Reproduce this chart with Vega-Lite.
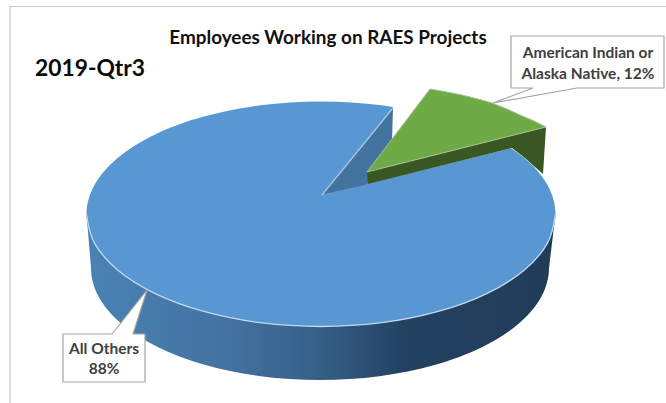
{"$schema":"https://vega.github.io/schema/vega-lite/v6.json","width":666,"height":403,"padding":0,"autosize":"none","background":"white","config":{"view":{"stroke":null}},
"data":{"values":[
{"part":"frame","i":0,"x":10,"y":403},{"part":"frame","i":1,"x":10,"y":6.5},{"part":"frame","i":2,"x":666,"y":6.5},
{"part":"base","i":0,"x":549,"y":268},{"part":"base","i":1,"x":541.2,"y":297},{"part":"base","i":2,"x":518.3,"y":324},{"part":"base","i":3,"x":481.9,"y":347.2},{"part":"base","i":4,"x":434.5,"y":365},{"part":"base","i":5,"x":379.3,"y":376.2},{"part":"base","i":6,"x":320,"y":380},{"part":"base","i":7,"x":260.7,"y":376.2},{"part":"base","i":8,"x":205.5,"y":365},{"part":"base","i":9,"x":158.1,"y":347.2},{"part":"base","i":10,"x":121.7,"y":324},{"part":"base","i":11,"x":98.8,"y":297},{"part":"base","i":12,"x":91,"y":268},{"part":"base","i":13,"x":98.8,"y":239},{"part":"base","i":14,"x":121.7,"y":212},{"part":"base","i":15,"x":158.1,"y":189},{"part":"base","i":16,"x":205.5,"y":171},{"part":"base","i":17,"x":260.7,"y":160},{"part":"base","i":18,"x":320,"y":156},{"part":"base","i":19,"x":379.3,"y":160},{"part":"base","i":20,"x":434.5,"y":171},{"part":"base","i":21,"x":481.9,"y":189},{"part":"base","i":22,"x":518.3,"y":212},{"part":"base","i":23,"x":541.2,"y":239},
{"part":"wall","i":0,"x":86.5,"y":214},{"part":"wall","i":1,"x":555.5,"y":214},{"part":"wall","i":2,"x":549,"y":268},{"part":"wall","i":3,"x":91,"y":268},
{"part":"top","i":0,"x":555.5,"y":214},{"part":"top","i":1,"x":547.5,"y":243.1},{"part":"top","i":2,"x":524.1,"y":270.25},{"part":"top","i":3,"x":486.8,"y":293.55},{"part":"top","i":4,"x":438.25,"y":311.4},{"part":"top","i":5,"x":381.7,"y":322.7},{"part":"top","i":6,"x":321,"y":326.5},{"part":"top","i":7,"x":260.3,"y":322.7},{"part":"top","i":8,"x":203.75,"y":311.4},{"part":"top","i":9,"x":155.2,"y":293.55},{"part":"top","i":10,"x":117.9,"y":270.25},{"part":"top","i":11,"x":94.5,"y":243.1},{"part":"top","i":12,"x":86.5,"y":214},{"part":"top","i":13,"x":94.5,"y":184.9},{"part":"top","i":14,"x":117.9,"y":157.75},{"part":"top","i":15,"x":155.2,"y":134.45},{"part":"top","i":16,"x":203.75,"y":116.6},{"part":"top","i":17,"x":260.3,"y":105.3},{"part":"top","i":18,"x":321,"y":101.5},{"part":"top","i":19,"x":381.7,"y":105.3},{"part":"top","i":20,"x":438.25,"y":116.6},{"part":"top","i":21,"x":486.8,"y":134.45},{"part":"top","i":22,"x":524.1,"y":157.75},{"part":"top","i":23,"x":547.5,"y":184.9},
{"part":"rim","i":0,"x":555.5,"y":214},{"part":"rim","i":1,"x":547.5,"y":243.1},{"part":"rim","i":2,"x":524.1,"y":270.25},{"part":"rim","i":3,"x":486.8,"y":293.55},{"part":"rim","i":4,"x":438.25,"y":311.4},{"part":"rim","i":5,"x":381.7,"y":322.7},{"part":"rim","i":6,"x":321,"y":326.5},{"part":"rim","i":7,"x":260.3,"y":322.7},{"part":"rim","i":8,"x":203.75,"y":311.4},{"part":"rim","i":9,"x":155.2,"y":293.55},{"part":"rim","i":10,"x":117.9,"y":270.25},{"part":"rim","i":11,"x":94.5,"y":243.1},{"part":"rim","i":12,"x":86.5,"y":214},
{"part":"cut","i":0,"x":322,"y":195},{"part":"cut","i":1,"x":399,"y":100},{"part":"cut","i":2,"x":500,"y":100},{"part":"cut","i":3,"x":530,"y":130},{"part":"cut","i":4,"x":512,"y":148},
{"part":"inner","i":0,"x":322,"y":195},{"part":"inner","i":1,"x":393,"y":108},{"part":"inner","i":2,"x":391,"y":172},{"part":"inner","i":3,"x":365,"y":185},
{"part":"innerEdge","i":0,"x":322,"y":195},{"part":"innerEdge","i":1,"x":393,"y":108},
{"part":"greenWall","i":0,"x":367,"y":172},{"part":"greenWall","i":1,"x":546,"y":127},{"part":"greenWall","i":2,"x":543,"y":174},{"part":"greenWall","i":3,"x":535,"y":167},{"part":"greenWall","i":4,"x":525,"y":158},{"part":"greenWall","i":5,"x":512,"y":148},{"part":"greenWall","i":6,"x":368,"y":184},
{"part":"green","i":0,"x":367,"y":172},{"part":"green","i":1,"x":430,"y":89},{"part":"green","i":2,"x":447,"y":92},{"part":"green","i":3,"x":462,"y":95},{"part":"green","i":4,"x":478,"y":99},{"part":"green","i":5,"x":492,"y":103},{"part":"green","i":6,"x":507,"y":109},{"part":"green","i":7,"x":520,"y":115},{"part":"green","i":8,"x":534,"y":121},{"part":"green","i":9,"x":546,"y":127},
{"part":"call1","i":0,"x":511,"y":36},{"part":"call1","i":1,"x":664,"y":36},{"part":"call1","i":2,"x":664,"y":88},{"part":"call1","i":3,"x":577,"y":88},{"part":"call1","i":4,"x":493,"y":103},{"part":"call1","i":5,"x":533,"y":88},{"part":"call1","i":6,"x":511,"y":88},
{"part":"call2","i":0,"x":63,"y":334},{"part":"call2","i":1,"x":112,"y":334},{"part":"call2","i":2,"x":147,"y":290},{"part":"call2","i":3,"x":133,"y":334},{"part":"call2","i":4,"x":145,"y":334},{"part":"call2","i":5,"x":145,"y":382},{"part":"call2","i":6,"x":63,"y":382},
{"part":"title","i":0,"x":328,"y":38,"label":"Employees Working on RAES Projects"},
{"part":"period","i":0,"x":35,"y":69,"label":"2019-Qtr3"},
{"part":"callout","i":0,"x":588,"y":53,"label":"American Indian or"},{"part":"callout","i":1,"x":588,"y":74,"label":"Alaska Native, 12%"},{"part":"callout","i":2,"x":104,"y":349,"label":"All Others"},{"part":"callout","i":3,"x":104,"y":369,"label":"88%"}
]},
"encoding":{"x":{"field":"x","type":"quantitative","scale":{"domain":[0,666],"nice":false,"zero":false},"axis":null},"y":{"field":"y","type":"quantitative","scale":{"domain":[403,0],"nice":false,"zero":false},"axis":null},"order":{"field":"i","type":"ordinal"}},
"layer":[
{"transform":[{"filter":"datum.part==='frame'"}],"mark":{"type":"line","stroke":"#c8c8c8","strokeWidth":1.2}},
{"transform":[{"filter":"datum.part==='base'"}],"mark":{"type":"line","interpolate":"cardinal-closed","stroke":null,"fill":{"gradient":"linear","x1":0,"x2":1,"y1":0,"y2":0,"stops":[{"offset":0,"color":"#4a82b5"},{"offset":0.3,"color":"#4272a0"},{"offset":0.5,"color":"#365f86"},{"offset":0.68,"color":"#234262"},{"offset":1,"color":"#203c58"}]}}},
{"transform":[{"filter":"datum.part==='wall'"}],"mark":{"type":"line","interpolate":"linear-closed","stroke":null,"fill":{"gradient":"linear","x1":0,"x2":1,"y1":0,"y2":0,"stops":[{"offset":0,"color":"#4a82b5"},{"offset":0.3,"color":"#4272a0"},{"offset":0.5,"color":"#365f86"},{"offset":0.68,"color":"#234262"},{"offset":1,"color":"#203c58"}]}}},
{"transform":[{"filter":"datum.part==='top'"}],"mark":{"type":"line","interpolate":"cardinal-closed","stroke":null,"fill":"#5997d2"}},
{"transform":[{"filter":"datum.part==='rim'"}],"mark":{"type":"line","interpolate":"cardinal","stroke":"#c3d8ea","strokeWidth":1.3}},
{"transform":[{"filter":"datum.part==='cut'"}],"mark":{"type":"line","interpolate":"linear-closed","stroke":null,"fill":"white"}},
{"transform":[{"filter":"datum.part==='inner'"}],"mark":{"type":"line","interpolate":"linear-closed","stroke":null,"fill":"#43749f"}},
{"transform":[{"filter":"datum.part==='innerEdge'"}],"mark":{"type":"line","stroke":"#a9c6e0","strokeWidth":1.2}},
{"transform":[{"filter":"datum.part==='greenWall'"}],"mark":{"type":"line","interpolate":"linear-closed","stroke":null,"fill":"#385723"}},
{"transform":[{"filter":"datum.part==='green'"}],"mark":{"type":"line","interpolate":"linear-closed","stroke":"#a8bd9c","strokeWidth":1,"fill":"#6fab44"}},
{"transform":[{"filter":"datum.part==='call1' || datum.part==='call2'"}],"mark":{"type":"line","interpolate":"linear-closed","stroke":"#a6a6a6","strokeWidth":1.2,"fill":"white"},"encoding":{"detail":{"field":"part"}}},
{"transform":[{"filter":"datum.part==='title'"}],"mark":{"type":"text","font":"Lato","fontWeight":"bold","fontSize":18.9,"color":"#111111","align":"center","baseline":"middle"},"encoding":{"text":{"field":"label"}}},
{"transform":[{"filter":"datum.part==='period'"}],"mark":{"type":"text","font":"Lato","fontWeight":"bold","fontSize":22.8,"color":"#0a0a0a","align":"left","baseline":"middle"},"encoding":{"text":{"field":"label"}}},
{"transform":[{"filter":"datum.part==='callout'"}],"mark":{"type":"text","font":"Lato","fontWeight":"bold","fontSize":15.5,"color":"#404040","align":"center","baseline":"middle"},"encoding":{"text":{"field":"label"}}}
]}
